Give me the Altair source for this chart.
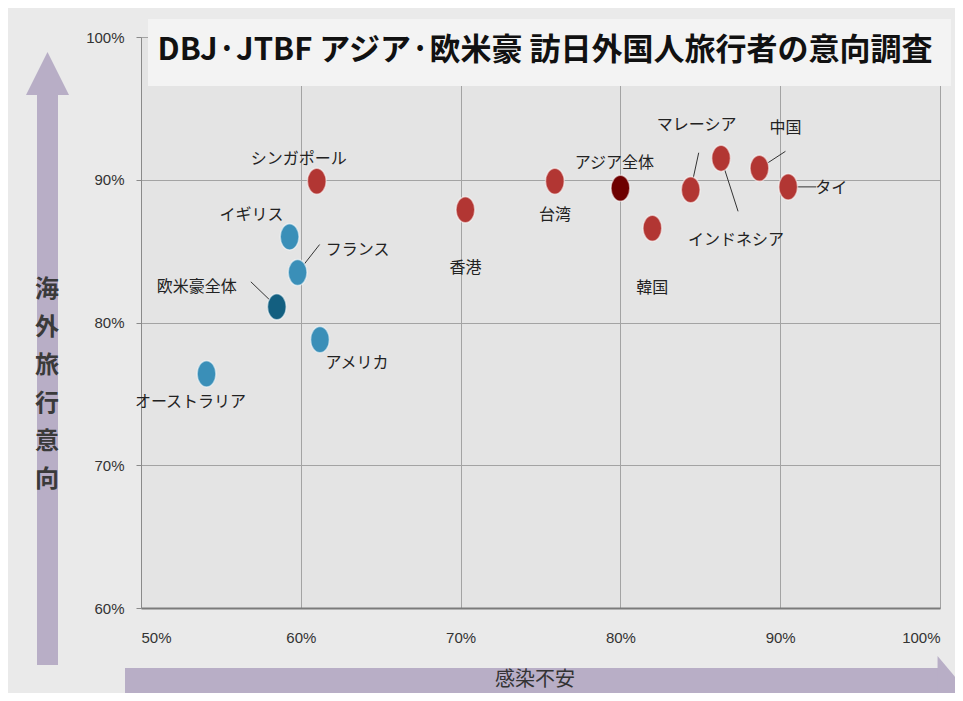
import altair as alt
import pandas as pd

# ---- data ----
names = ["シンガポール", "イギリス", "フランス", "欧米豪全体", "アメリカ", "オーストラリア",
         "香港", "台湾", "アジア全体", "韓国", "マレーシア", "インドネシア", "中国", "タイ"]
anxiety = [61.0, 59.3, 59.8, 58.5, 61.2, 54.1, 70.3, 75.9, 80.0, 82.0, 84.4, 86.3, 88.7, 90.5]
intent = [89.9, 86.0, 83.5, 81.1, 78.8, 76.4, 87.9, 89.9, 89.4, 86.6, 89.3, 91.5, 90.8, 89.5]
group = ["asia", "west", "west", "west_all", "west", "west",
         "asia", "asia", "asia_all", "asia", "asia", "asia", "asia", "asia"]

x_ticks = [50, 60, 70, 80, 90, 100]
y_ticks = [60, 70, 80, 90, 100]
title_text = "DBJ·JTBF アジア·欧米豪 訪日外国人旅行者の意向調査"
x_title = "感染不安"
y_title = "海\n外\n旅\n行\n意\n向"

# ---- label placement (pixel offsets from each dot) ----
label_dx = [-18, -38, 60, -80, 37, -16, 0, 0, -6, 0, 6, 15, 26, 43]
label_dy = [-22, -22, -23, -20, 23, 28, 58, 34, -25, 60, -65, 82, -40, 1]
leader_dx = [0, 0, 22, -26, 0, 0, 0, 0, 0, 0, 8, 17, 26, 28]
leader_dy = [0, 0, -28, -25, 0, 0, 0, 0, 0, 0, -37, 53, -17, 0]

W, H = 799, 571
XD, YD = [50, 100], [60, 100]
px_x = W / (XD[1] - XD[0])
px_y = H / (YD[1] - YD[0])

df = pd.DataFrame({"name": names, "x": anxiety, "y": intent, "group": group})
df["lx"] = [a + d / px_x for a, d in zip(anxiety, label_dx)]
df["ly"] = [b - d / px_y for b, d in zip(intent, label_dy)]
df["ex"] = [a + d / px_x for a, d in zip(anxiety, leader_dx)]
df["ey"] = [b - d / px_y for b, d in zip(intent, leader_dy)]

xscale = alt.Scale(domain=XD, nice=False, zero=False)
yscale = alt.Scale(domain=YD, nice=False, zero=False)
axis_x = alt.Axis(values=x_ticks, labelExpr="datum.value + '%'", title=None, grid=True,
                  ticks=False, labelPadding=22, labelFontSize=15, labelColor="#333333",
                  labelFont="Liberation Sans", domainColor="#7a7a7a", domainWidth=2,
                  gridColor="#a3a3a3", gridWidth=1)
axis_y = alt.Axis(values=y_ticks, labelExpr="datum.value + '%'", title=None, grid=True,
                  ticks=True, tickSize=5, tickColor="#8a8a8a", labelPadding=12,
                  labelFontSize=15, labelColor="#333333", labelFont="Liberation Sans",
                  domainColor="#8a8a8a", domainWidth=1, gridColor="#a3a3a3", gridWidth=1)

color = alt.Color("group:N", legend=None,
                  scale=alt.Scale(domain=["asia", "asia_all", "west", "west_all"],
                                  range=["#b23633", "#6e0000", "#3a8fb8", "#135f80"]))

base = alt.Chart(df)

leaders = base.mark_rule(color="#333333", strokeWidth=1).encode(
    x=alt.X("x:Q", scale=xscale, axis=axis_x),
    y=alt.Y("y:Q", scale=yscale, axis=axis_y),
    x2="ex:Q", y2="ey:Q",
)

ellipse = "M0,-1 A0.72,1 0 1,1 0,1 A0.72,1 0 1,1 0,-1 Z"
dots = base.mark_point(shape=ellipse, filled=True, size=680, opacity=1,
                       stroke="#ffffff", strokeOpacity=0.55, strokeWidth=1.5).encode(
    x=alt.X("x:Q", scale=xscale, axis=axis_x),
    y=alt.Y("y:Q", scale=yscale, axis=axis_y),
    color=color,
)

labels = base.mark_text(font="Noto Sans CJK JP", fontSize=16, color="#222222",
                        align="center", baseline="middle").encode(
    x=alt.X("lx:Q", scale=xscale, axis=axis_x),
    y=alt.Y("ly:Q", scale=yscale, axis=axis_y),
    text="name:N",
)

one = alt.Chart(pd.DataFrame({"k": [0]}))
arrow_col = "#b8aec6"

v_shaft = one.mark_rect(color=arrow_col).encode(
    x=alt.value(-104), x2=alt.value(-83), y=alt.value(58), y2=alt.value(628))
v_head = one.mark_point(shape="M0,-1 L1,1 L-1,1 Z", filled=True, size=1849,
                        color=arrow_col, opacity=1).encode(
    x=alt.value(-93.5), y=alt.value(36.5))
h_shaft = one.mark_rect(color=arrow_col).encode(
    x=alt.value(-16), x2=alt.value(797), y=alt.value(631), y2=alt.value(680))
h_head = one.mark_point(shape="M-0.42,-1 L0.42,0 L-0.42,1 Z", filled=True, size=4096,
                        color=arrow_col, opacity=1).encode(
    x=alt.value(810), y=alt.value(651))
y_label = one.mark_text(text=y_title, lineBreak="\n", lineHeight=38, font="Noto Sans CJK JP",
                        fontSize=24, fontWeight="bold", color="#3a3a3a",
                        align="center", baseline="middle").encode(
    x=alt.value(-94), y=alt.value(253))
x_label = one.mark_text(text=x_title, font="Noto Sans CJK JP", fontSize=20, color="#333333",
                        align="center", baseline="middle").encode(
    x=alt.value(394), y=alt.value(643))
title_box = one.mark_rect(color="#f3f3f3").encode(
    x=alt.value(7), x2=alt.value(810), y=alt.value(-18), y2=alt.value(49))
title = one.mark_text(text=title_text, font="Noto Sans CJK JP", fontSize=31,
                      fontWeight="bold", color="#111111", align="center",
                      baseline="middle").encode(
    x=alt.value(404), y=alt.value(14))

chart = alt.layer(
    leaders, dots, labels, v_shaft, v_head, h_shaft, h_head, y_label, x_label, title_box, title
).properties(
    width=W, height=H,
    padding={"left": 133, "top": 29, "right": 15, "bottom": 85},
    autosize=alt.AutoSizeParams(type="none"),
    background="#eaeaea",
).configure_view(fill="#e4e4e4", stroke="transparent")

chart.save("out.html", embed_options={"renderer": "svg", "actions": False})
